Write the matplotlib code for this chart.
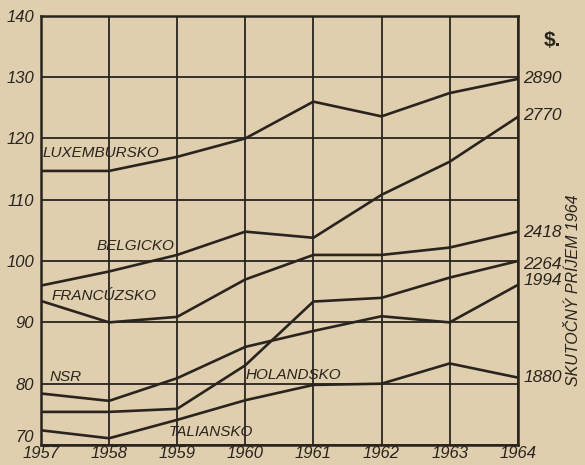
import matplotlib.pyplot as plt

years = [1957, 1958, 1959, 1960, 1961, 1962, 1963, 1964]

luxembursko = [114.7, 114.7, 117.0, 120.0, 126.0, 123.6, 127.4, 129.7]
belgicko = [96.0, 98.3, 101.0, 104.8, 103.8, 110.8, 116.2, 123.5]
francuzsko = [93.5, 90.0, 90.9, 97.0, 101.0, 101.0, 102.2, 104.8]
holandsko = [75.4, 75.4, 75.9, 83.0, 93.4, 94.0, 97.3, 100.0]
nsr = [78.4, 77.2, 80.9, 86.0, 88.6, 91.0, 90.0, 96.1]
taliansko = [72.4, 71.1, 74.1, 77.3, 79.8, 80.0, 83.3, 81.0]

series = [luxembursko, belgicko, francuzsko, holandsko, nsr, taliansko]
names = ['LUXEMBURSKO', 'BELGICKO', 'FRANCÚZSKO', 'HOLANDSKO', 'NSR', 'TALIANSKO']
income_1964 = ['2890', '2770', '2418', '2264', '1994', '1880']

BG = '#dfcfae'
INK = '#2a241e'
FONT = ['Liberation Sans', 'DejaVu Sans']

fig = plt.figure(figsize=(5.85, 4.65), dpi=100, facecolor=BG)
ax = fig.add_axes([0.070, 0.043, 0.815, 0.923], facecolor=BG)

for s in series:
    ax.plot(years, s, color=INK, lw=1.9, solid_joinstyle='miter')

ax.set_xlim(1957, 1964)
ax.set_ylim(70, 140)
ax.set_xticks(years)
ax.set_yticks(range(70, 141, 10))
ax.grid(True, color=INK, lw=1.3)
ax.set_axisbelow(True)
for sp in ax.spines.values():
    sp.set_color(INK)
    sp.set_linewidth(1.8)
ax.tick_params(length=0, colors=INK)
ax.tick_params(axis='x', pad=1)
ax.tick_params(axis='y', pad=5)
ax.set_xticklabels([str(y) for y in years], family=FONT, style='italic', fontsize=12)
ylabels = ax.set_yticklabels([str(v) for v in range(70, 141, 10)],
                             family=FONT, style='italic', fontsize=12)
ylabels[0].set_va('bottom')

# country names inside the plot
label_pos = {
    'LUXEMBURSKO': (1957.03, 117.6),
    'BELGICKO': (1957.82, 102.5),
    'FRANCÚZSKO': (1957.15, 94.3),
    'NSR': (1957.12, 81.1),
    'HOLANDSKO': (1960.0, 81.4),
    'TALIANSKO': (1958.87, 72.1),
}
for name in names:
    x, y = label_pos[name]
    ax.text(x, y, name, family=FONT, style='italic', fontsize=11,
            color=INK, va='center', ha='left')

# 1964 income labels at line ends
end_shift = [0, 0.3, -0.2, -0.5, 0.8, 0]
for s, lab, dy in zip(series, income_1964, end_shift):
    ax.annotate(lab, (1964, s[-1] + dy), xytext=(4, 0), textcoords='offset points',
                family=FONT, style='italic', fontsize=12.5, color=INK,
                va='center', ha='left', annotation_clip=False)

fig.text(0.930, 0.913, '$.', family=FONT, weight='bold', fontsize=15,
         color=INK, ha='left', va='center')
fig.text(0.980, 0.376, 'SKUTOČNÝ PRÍJEM 1964', family=FONT, style='italic',
         fontsize=11.5, color=INK, rotation=90, ha='center', va='center')

fig.savefig('out.png', dpi=100, facecolor=BG)
